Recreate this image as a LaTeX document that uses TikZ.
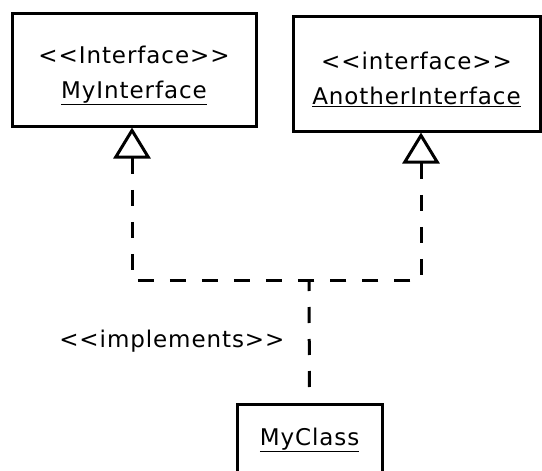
\documentclass[tikz,border=0pt]{standalone}
\usepackage{fontspec}
\newfontfamily\umlfont{DejaVu Sans}[LetterSpace=4]
\usetikzlibrary{arrows.meta}

\tikzset{
  classbox/.style={draw, line width=3pt, fill=white, align=center,
    font=\umlfont\fontsize{23}{35}\selectfont},
  realize/.style={line width=3pt, dash pattern=on 16pt off 16pt,
    {Triangle[open, length=31pt, width=37pt]}-},
}
% extra room above the stereotype line
\newcommand{\topgap}{\rule{0pt}{29pt}}

\begin{document}
\begin{tikzpicture}[x=1pt, y=-1pt]
    \useasboundingbox (0,0) rectangle (542,471);

    % Interface boxes
    \node[classbox, minimum width=244pt, minimum height=113pt] (myif) at (134,69.5)
        {\topgap<<Interface>>\\ \underline{MyInterface}};
    \node[classbox, minimum width=247pt, minimum height=115pt] (anif) at (416.5,73.5)
        {\topgap<<interface>>\\ \underline{AnotherInterface}};

    % Class box
    \node[classbox, minimum width=145pt, minimum height=72pt] (mycls) at (309.5,440)
        {\underline{MyClass}};

    % Realization lines
    \coordinate (join) at (309,280);
    \draw[realize] ([xshift=-2pt]myif.south) |- (join);
    \draw[realize] ([xshift=4.5pt]anif.south) |- (join);
    \draw[line width=3pt, dash pattern=on 16pt off 16pt, dash phase=5pt] (join) --
        node[left=20pt, font=\umlfont\fontsize{23}{35}\selectfont] (impl) {<<implements>>} (mycls.north);

\end{tikzpicture}
\end{document}
